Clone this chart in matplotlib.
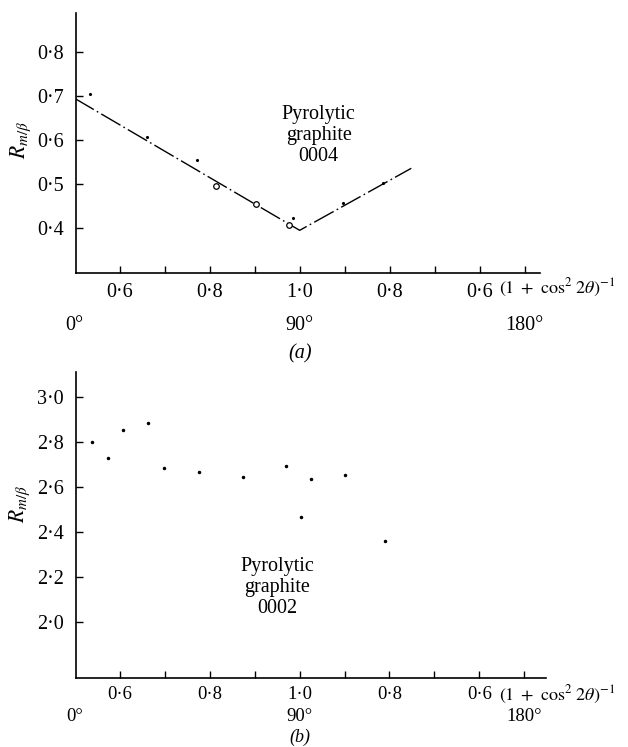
import matplotlib
matplotlib.use("Agg")
import matplotlib.pyplot as plt
import numpy as np

plt.rcParams['font.family'] = ['Liberation Serif', 'DejaVu Serif']
plt.rcParams['mathtext.fontset'] = 'stix'

## data ##
# x is a folded scale: left half (1 + cos^2 2theta)^-1 rising 0.5 -> 1.0,
# right half falling back 1.0 -> 0.5 (plotted as 2 - value)

# panel (a): pyrolytic graphite 0004
a_line_x = [0.5, 1.0, 1.248]
a_line_y = [0.695, 0.395, 0.536]
a_circ_x = [0.813, 0.902, 0.977]
a_circ_y = [0.496, 0.455, 0.406]
a_dot_x = [0.533, 0.660, 0.772, 0.986, 1.097, 1.186]
a_dot_y = [0.706, 0.607, 0.555, 0.422, 0.456, 0.502]

# panel (b): pyrolytic graphite 0002
b_x = [0.539, 0.575, 0.608, 0.664, 0.699, 0.776, 0.874, 0.971, 1.003, 1.025, 1.100, 1.191]
b_y = [2.800, 2.729, 2.853, 2.884, 2.683, 2.665, 2.643, 2.694, 2.469, 2.635, 2.653, 2.363]

x_ticks = [0.6, 0.7, 0.8, 0.9, 1.0, 1.1, 1.2, 1.3, 1.4, 1.5]
x_labels = ['0·6', '', '0·8', '', '1·0', '', '0·8', '', '0·6', '']
deg_pos = [0.5, 1.0, 1.5]
deg_labels = ['0°', '90°', '180°']

a_yticks = [0.4, 0.5, 0.6, 0.7, 0.8]
a_ylabels = ['0·4', '0·5', '0·6', '0·7', '0·8']
b_yticks = [2.0, 2.2, 2.4, 2.6, 2.8, 3.0]
b_ylabels = ['2·0', '2·2', '2·4', '2·6', '2·8', '3·0']

FS = 14.5
W, H = 628, 747
XLAB = r'$(1\ +\ \cos^2\,2\theta)^{-1}$'

def px_axes(fig, left, top, right, bottom):
    return fig.add_axes([left / W, 1 - bottom / H, (right - left) / W, (bottom - top) / H])

def style_axes(ax, xlim, ylim, yticks, ylabels, tick_off, deg_off, ylab_y, xfs):
    ax.set_xlim(*xlim)
    ax.set_ylim(*ylim)
    for s in ['top', 'right']:
        ax.spines[s].set_visible(False)
    for s in ['left', 'bottom']:
        ax.spines[s].set_linewidth(1.2)
    ax.set_xticks(x_ticks)
    ax.set_xticklabels(x_labels, fontsize=xfs)
    ax.set_yticks(yticks)
    ax.set_yticklabels(ylabels, fontsize=FS)
    ax.tick_params(axis='both', direction='in', length=5, width=1)
    ax.tick_params(axis='x', pad=tick_off)
    ax.tick_params(axis='y', pad=9)
    for p, l in zip(deg_pos, deg_labels):
        ax.annotate(l, xy=(p, 0), xycoords=('data', 'axes fraction'),
                    xytext=(0, -deg_off), textcoords='offset points',
                    ha='center', va='center', fontsize=xfs)
    ax.text(-0.12, ylab_y, r'$R_{m/\beta}$', transform=ax.transAxes,
            rotation=90, ha='center', va='center', fontsize=FS + 1)

fig = plt.figure(figsize=(W / 100, H / 100), dpi=100)

# (a)
ax1 = px_axes(fig, 76, 13, 540, 273)
ax1.plot(a_line_x, a_line_y, color='black', lw=1.0,
         linestyle=(0, (16, 2.5, 1.2, 2.5)))
ax1.plot(a_circ_x, a_circ_y, 'o', ms=4, mfc='white', mec='black', mew=0.9)
ax1.plot(a_dot_x, a_dot_y, '.', ms=2.5, color='black')
ax1.text(1.042, 0.611, 'Pyrolytic\ngraphite\n0004', ha='center', va='center',
         fontsize=FS, linespacing=1.15)
style_axes(ax1, (0.503, 1.534), (0.298, 0.889), a_yticks, a_ylabels,
           tick_off=7, deg_off=38, ylab_y=0.51, xfs=FS)
fig.text(499 / W, 1 - 288 / H, XLAB, ha='left', va='center', fontsize=FS - 1.5)
fig.text(300 / W, 1 - 354 / H, '(a)', ha='center', va='center',
         fontsize=FS, style='italic')

# (b)
ax2 = px_axes(fig, 76, 372, 546, 678)
ax2.plot(b_x, b_y, '.', ms=3, color='black')
ax2.text(0.95, 2.153, 'Pyrolytic\ngraphite\n0002', ha='center', va='center',
         fontsize=FS, linespacing=1.15)
style_axes(ax2, (0.503, 1.548), (1.753, 3.111), b_yticks, b_ylabels,
           tick_off=6, deg_off=28, ylab_y=0.57, xfs=FS - 1)
fig.text(499 / W, 1 - 695 / H, XLAB, ha='left', va='center', fontsize=FS - 1.5)
fig.text(300 / W, 1 - 737 / H, '(b)', ha='center', va='center',
         fontsize=FS - 1.5, style='italic')

fig.savefig('out.png', dpi=100)
